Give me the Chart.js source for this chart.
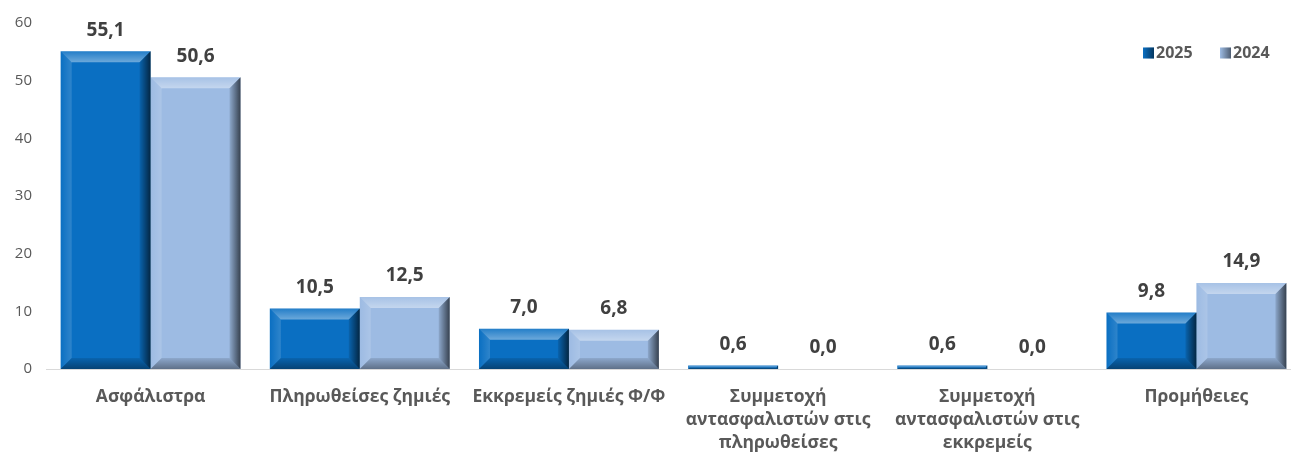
<!DOCTYPE html>
<html>
<head>
<meta charset="utf-8">
<script src="https://cdn.jsdelivr.net/npm/chart.js@4"></script>
<style>
  html, body { margin: 0; padding: 0; background: #fff; overflow: hidden; }
  #wrap { width: 1301px; height: 457px; position: relative; }
</style>
</head>
<body>
<div id="wrap"><canvas id="myChart"></canvas></div>
<script>
// categories and values
const categories = [
  'Ασφάλιστρα',
  'Πληρωθείσες ζημιές',
  'Εκκρεμείς ζημιές Φ/Φ',
  ['Συμμετοχή', 'αντασφαλιστών στις', 'πληρωθείσες'],
  ['Συμμετοχή', 'αντασφαλιστών στις', 'εκκρεμείς'],
  'Προμήθειες'
];
const values2025 = [55.1, 10.5, 7.0, 0.6, 0.6, 9.8];
const values2024 = [50.6, 12.5, 6.8, 0.0, 0.0, 14.9];
const seriesNames = ['2025', '2024'];
const yTicks = [0, 10, 20, 30, 40, 50, 60];

const colors = ['#0a6fc2', '#9dbbe3'];
const textGrey = '#595959';
const FONT = "'Open Sans', 'Liberation Sans', Arial, sans-serif";

// bevel effect on each bar (uses bar elements from the library)
const bevelPlugin = {
  id: 'bevel',
  afterDatasetsDraw(chart) {
    const c = chart.ctx;
    chart.data.datasets.forEach((ds, i) => {
      const meta = chart.getDatasetMeta(i);
      meta.data.forEach(bar => {
        const { x, y, base, width } = bar.getProps(['x', 'y', 'base', 'width'], true);
        const l = x - width / 2, r = x + width / 2, t = Math.min(y, base), b = Math.max(y, base);
        const h = b - t;
        if (h < 1) return;
        const bv = Math.min(11, h / 2, width / 2);
        c.save();
        // top
        let g = c.createLinearGradient(0, t, 0, t + bv);
        g.addColorStop(0, 'rgba(255,255,255,0.1)');
        g.addColorStop(1, 'rgba(255,255,255,0.4)');
        c.fillStyle = g;
        c.beginPath(); c.moveTo(l, t); c.lineTo(r, t); c.lineTo(r - bv, t + bv); c.lineTo(l + bv, t + bv); c.closePath(); c.fill();
        // left
        g = c.createLinearGradient(l, 0, l + bv, 0);
        g.addColorStop(0, 'rgba(255,255,255,0.0)');
        g.addColorStop(1, 'rgba(255,255,255,0.15)');
        c.fillStyle = g;
        c.beginPath(); c.moveTo(l, t); c.lineTo(l + bv, t + bv); c.lineTo(l + bv, b - bv); c.lineTo(l, b); c.closePath(); c.fill();
        // right
        g = c.createLinearGradient(r - bv, 0, r, 0);
        g.addColorStop(0, 'rgba(0,0,0,0.1)');
        g.addColorStop(1, 'rgba(0,0,0,0.65)');
        c.fillStyle = g;
        c.beginPath(); c.moveTo(r, t); c.lineTo(r, b); c.lineTo(r - bv, b - bv); c.lineTo(r - bv, t + bv); c.closePath(); c.fill();
        // bottom
        g = c.createLinearGradient(0, b - bv, 0, b);
        g.addColorStop(0, 'rgba(0,0,0,0.1)');
        g.addColorStop(1, 'rgba(0,0,0,0.4)');
        c.fillStyle = g;
        c.beginPath(); c.moveTo(l, b); c.lineTo(l + bv, b - bv); c.lineTo(r - bv, b - bv); c.lineTo(r, b); c.closePath(); c.fill();
        c.restore();
      });
    });
  }
};

// value labels above bars
const labelPlugin = {
  id: 'valueLabels',
  afterDatasetsDraw(chart) {
    const c = chart.ctx;
    c.save();
    c.font = 'bold 19px ' + FONT;
    c.fillStyle = '#404040';
    c.textAlign = 'center';
    c.textBaseline = 'middle';
    chart.data.datasets.forEach((ds, i) => {
      chart.getDatasetMeta(i).data.forEach((bar, j) => {
        const txt = ds.data[j].toFixed(1).replace('.', ',');
        c.fillText(txt, bar.x, bar.y - 21);
      });
    });
    c.restore();
  }
};

// legend inside the plot area, top right
const legendPlugin = {
  id: 'customLegend',
  afterDraw(chart) {
    const c = chart.ctx;
    c.save();
    c.font = 'bold 16px ' + FONT;
    c.textBaseline = 'middle';
    c.textAlign = 'left';
    const yMid = 53;
    let xPos = 1143;
    seriesNames.forEach((name, i) => {
      const s = 11;
      c.fillStyle = colors[i];
      c.fillRect(xPos, yMid - s / 2, s, s);
      let g = c.createLinearGradient(xPos, 0, xPos + s, 0);
      g.addColorStop(0, 'rgba(0,0,0,0)');
      g.addColorStop(1, 'rgba(0,0,0,0.5)');
      c.fillStyle = g;
      c.fillRect(xPos, yMid - s / 2, s, s);
      c.fillStyle = textGrey;
      c.fillText(name, xPos + s + 2, yMid);
      xPos += 77;
    });
    c.restore();
  }
};

const ctx = document.getElementById('myChart').getContext('2d');
const myChart = new Chart(ctx, {
  type: 'bar',
  data: {
    labels: categories,
    datasets: [
      { label: seriesNames[0], data: values2025, backgroundColor: colors[0] },
      { label: seriesNames[1], data: values2024, backgroundColor: colors[1] }
    ]
  },
  plugins: [bevelPlugin, labelPlugin, legendPlugin],
  options: {
    responsive: true,
    maintainAspectRatio: false,
    animation: false,
    layout: { padding: { top: 10, right: 0, left: 0, bottom: 0 } },
    datasets: { bar: { categoryPercentage: 0.86, barPercentage: 1.0 } },
    plugins: {
      legend: { display: false },
      tooltip: { enabled: false }
    },
    scales: {
      x: {
        afterFit(scale) { scale.height = 88; },
        grid: { display: false, drawTicks: false },
        border: { display: true, color: '#d9d9d9', width: 1 },
        ticks: {
          color: textGrey,
          font: { family: FONT, size: 17.5, weight: 'bold', lineHeight: 1.3 },
          padding: 17,
          maxRotation: 0,
          autoSkip: false
        }
      },
      y: {
        min: 0,
        max: 60,
        afterFit(scale) { scale.width = 46; },
        afterBuildTicks(scale) { scale.ticks = yTicks.map(v => ({ value: v })); },
        grid: { display: false, drawTicks: false },
        border: { display: false },
        ticks: {
          color: textGrey,
          font: { family: FONT, size: 15 },
          padding: 14
        }
      }
    }
  }
});
</script>
</body>
</html>
